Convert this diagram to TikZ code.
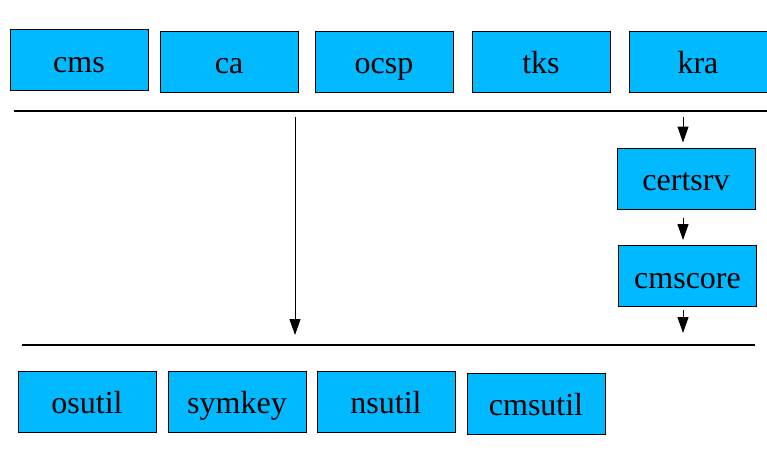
\documentclass[tikz,border=0pt]{standalone}
\usepackage{fontspec}
\setmainfont{Liberation Serif}
\usetikzlibrary{arrows.meta}
\definecolor{boxblue}{RGB}{0,185,255}

\begin{document}
\begin{tikzpicture}[x=1pt,y=-1pt,
    every node/.style={rectangle,draw,line width=1pt,fill=boxblue,
      minimum width=138pt,minimum height=61pt,inner sep=0pt,
      text height=24pt,text depth=0pt,
      font=\fontsize{32}{36}\selectfont},
    dep/.style={line width=1pt,-{Triangle[length=16pt,width=11pt]}}]
    \useasboundingbox (0,0) rectangle (767,450);

    % Upper layer: subsystems
    \node (cms)  at (79,60)    {cms};
    \node (ca)   at (229,61.5) {ca};
    \node (ocsp) at (384,61.5) {ocsp};
    \node (tks)  at (541,61.5) {tks};
    \node (kra)  at (698,61.5) {kra};

    % Layer lines
    \coordinate (topL) at (14,111);
    \coordinate (topR) at (767,111);
    \coordinate (botL) at (22,345);
    \coordinate (botR) at (755,345);
    \draw[line width=1.3pt] (topL) -- (topR);
    \draw[line width=1.3pt] (botL) -- (botR);

    % Server core
    \node (certsrv) at (686,178.5) {certsrv};
    \node (cmscore) at (687.5,276) {cmscore};

    % Lower layer: utilities
    \node (osutil)  at (87,401.5)  {osutil};
    \node (symkey)  at (237,401.5) {symkey};
    \node (nsutil)  at (386,401.5) {nsutil};
    \node (cmsutil) at (536,403.5) {cmsutil};

    % Dependencies
    \coordinate (skip) at (295,111);
    \coordinate (core) at (683,111);
    \draw[dep,shorten <=6pt,shorten >=10pt] (skip) -- (skip |- botL);
    \draw[dep,shorten <=6pt,shorten >=5pt] (core) -- (core |- certsrv.north);
    \draw[dep,shorten <=8pt,shorten >=5pt] (core |- certsrv.south) -- (core |- cmscore.north);
    \draw[dep,shorten <=3pt,shorten >=12pt] (core |- cmscore.south) -- (core |- botR);
\end{tikzpicture}
\end{document}
